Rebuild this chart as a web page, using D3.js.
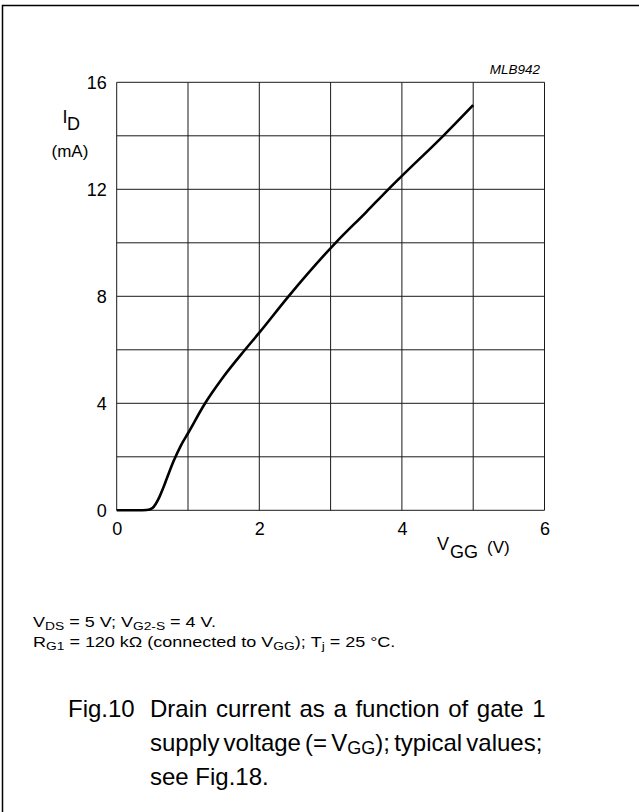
<!DOCTYPE html>
<html>
<head>
<meta charset="utf-8">
<script src="https://cdn.jsdelivr.net/npm/d3@7"></script>
<style>
  body { margin: 0; background: #fff; }
  text { font-family: "Liberation Sans", Arial, sans-serif; fill: #000; }
</style>
</head>
<body>
<div id="chart"></div>
<script>
// drain current vs gate supply voltage
const vgg = [0, 0.3, 0.42, 0.5, 0.55, 0.6, 0.65, 0.7, 0.8, 0.9, 1.0, 1.24, 1.5, 1.8, 2.0, 2.41, 3.07, 3.5, 3.81, 4.0, 4.58, 5.0]
const idMa = [0, 0, 0.01, 0.08, 0.25, 0.5, 0.82, 1.17, 1.85, 2.42, 2.88, 4.0, 5.0, 6.0, 6.64, 8.0, 10.0, 11.15, 12.0, 12.5, 14.0, 15.15]

const xGrid = [0, 1, 2, 3, 4, 5, 6]
const yGrid = [0, 2, 4, 6, 8, 10, 12, 14, 16]
const xTickLabels = [0, 2, 4, 6]
const yTickLabels = [0, 4, 8, 12, 16]

const W = 639, H = 812

const svg = d3.select("#chart")
    .append("svg")
    .attr("width", W)
    .attr("height", H)

// page frame (only top and left edge visible)
svg.append("path")
    .attr("d", "M2.5,812 V5.5 H639")
    .attr("fill", "none")
    .attr("stroke", "#000")
    .attr("stroke-width", 1.5)

let x = d3.scaleLinear().domain([0, 6]).range([116.7, 544.5])
let y = d3.scaleLinear().domain([0, 16]).range([510.3, 82.3])

// grid
svg.append("g")
    .selectAll("line.v")
    .data(xGrid)
    .enter().append("line")
    .attr("x1", d => x(d)).attr("x2", d => x(d))
    .attr("y1", y(0)).attr("y2", y(16))
    .attr("stroke", "#1a1a1a")
    .attr("stroke-width", 1)

svg.append("g")
    .selectAll("line.h")
    .data(yGrid)
    .enter().append("line")
    .attr("x1", x(0)).attr("x2", x(6))
    .attr("y1", d => y(d)).attr("y2", d => y(d))
    .attr("stroke", "#1a1a1a")
    .attr("stroke-width", 1)

// tick labels via axes, no tick marks
let xAxis = svg.append("g")
    .attr("transform", `translate(0,${y(0)})`)
    .call(d3.axisBottom(x).tickValues(xTickLabels).tickFormat(d3.format("d")).tickSize(0).tickPadding(12))
xAxis.select(".domain").remove()
xAxis.selectAll("text")
    .attr("font-size", "18px")
    .attr("font-family", "Liberation Sans, Arial, sans-serif")
    .attr("fill", "#000")

let yAxis = svg.append("g")
    .attr("transform", `translate(${x(0)},0)`)
    .call(d3.axisLeft(y).tickValues(yTickLabels).tickFormat(d3.format("d")).tickSize(0).tickPadding(10))
yAxis.select(".domain").remove()
yAxis.selectAll("text")
    .attr("font-size", "18px")
    .attr("font-family", "Liberation Sans, Arial, sans-serif")
    .attr("fill", "#000")

// curve
svg.append("path")
    .datum(vgg.map((v, i) => [v, idMa[i]]))
    .attr("fill", "none")
    .attr("stroke", "#000")
    .attr("stroke-width", 2.6)
    .attr("stroke-linejoin", "round")
    .attr("d", d3.line()
        .x(d => x(d[0]))
        .y(d => y(d[1]))
        .curve(d3.curveMonotoneX))

// axis titles
let yl = svg.append("text").attr("font-size", "18px")
yl.append("tspan").attr("x", 62.5).attr("y", 123).text("I")
yl.append("tspan").attr("x", 67).attr("y", 130).text("D")
svg.append("text").attr("x", 51.5).attr("y", 157)
    .attr("font-size", "17px").text("(mA)")

let xl = svg.append("text").attr("font-size", "18px")
xl.append("tspan").attr("x", 437).attr("y", 550).text("V")
xl.append("tspan").attr("x", 450).attr("y", 558).text("GG")
xl.append("tspan").attr("x", 487).attr("y", 553).attr("font-size", "17px").text("(V)")

svg.append("text")
    .attr("x", 540).attr("y", 74)
    .attr("text-anchor", "end")
    .attr("font-size", "13.5px")
    .attr("font-style", "italic")
    .text("MLB942")

// conditions (glyphs in the original are a bit wide, so stretch horizontally)
let c1 = svg.append("text").attr("transform", "translate(33,627) scale(1.2,1)").attr("font-size", "15px")
c1.append("tspan").text("V")
c1.append("tspan").attr("dy", 3).attr("font-size", "11.5px").text("DS")
c1.append("tspan").attr("dy", -3).text(" = 5 V; V")
c1.append("tspan").attr("dy", 3).attr("font-size", "11.5px").text("G2-S")
c1.append("tspan").attr("dy", -3).text(" = 4 V.")

let c2 = svg.append("text").attr("transform", "translate(33,647) scale(1.2,1)").attr("font-size", "15px")
c2.append("tspan").text("R")
c2.append("tspan").attr("dy", 3).attr("font-size", "11.5px").text("G1")
c2.append("tspan").attr("dy", -3).text(" = 120 k\u03a9 (connected to V")
c2.append("tspan").attr("dy", 3).attr("font-size", "11.5px").text("GG")
c2.append("tspan").attr("dy", -3).text("); T")
c2.append("tspan").attr("dy", 3).attr("font-size", "11.5px").text("j")
c2.append("tspan").attr("dy", -3).text(" = 25 \u00b0C.")

// caption
svg.append("text").attr("x", 68).attr("y", 717).attr("font-size", "24px").text("Fig.10")
svg.append("text").attr("x", 150).attr("y", 717).attr("font-size", "24px")
    .attr("word-spacing", "2px")
    .text("Drain current as a function of gate 1")
let cap2 = svg.append("text").attr("x", 150).attr("y", 751).attr("font-size", "24px")
    .attr("word-spacing", "-2.5px")
cap2.append("tspan").text("supply voltage (= V")
cap2.append("tspan").attr("dy", 3).attr("font-size", "18px").text("GG")
cap2.append("tspan").attr("dy", -3).text("); typical values;")
svg.append("text").attr("x", 150).attr("y", 785).attr("font-size", "24px").text("see Fig.18.")
</script>
</body>
</html>
